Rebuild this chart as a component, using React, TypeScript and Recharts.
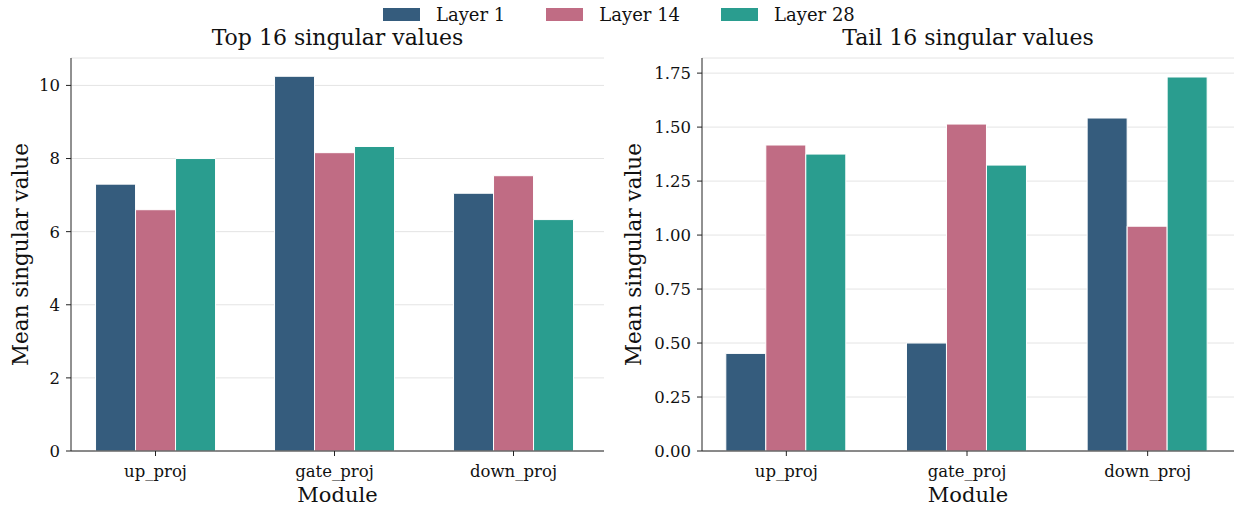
import React from "react";
import { Bar, BarChart, CartesianGrid, XAxis, YAxis } from "recharts";

const FONT = '"DejaVu Serif", "Liberation Serif", serif';
const INK = "#111111";

const modules = ["up_proj", "gate_proj", "down_proj"];
const layerNames = ["Layer 1", "Layer 14", "Layer 28"];
const layerColors = ["#355c7d", "#c06c84", "#2a9d8f"];

// Top 16 singular values, per module
const topLayer1 = [7.3, 10.25, 7.05];
const topLayer14 = [6.6, 8.16, 7.53];
const topLayer28 = [8.0, 8.33, 6.33];

// Tail 16 singular values, per module
const tailLayer1 = [0.452, 0.5, 1.542];
const tailLayer14 = [1.417, 1.514, 1.041];
const tailLayer28 = [1.375, 1.324, 1.732];

const topTicks = [0, 2, 4, 6, 8, 10];
const tailTicks = [0, 0.25, 0.5, 0.75, 1.0, 1.25, 1.5, 1.75];

const toRows = (a: number[], b: number[], c: number[]) =>
  modules.map((m, i) => ({ module: m, l1: a[i], l14: b[i], l28: c[i] }));

const topData = toRows(topLayer1, topLayer14, topLayer28);
const tailData = toRows(tailLayer1, tailLayer14, tailLayer28);

const yLabel = (x: number) => (props: any) => {
  const vb = props.viewBox;
  const cy = vb.y + vb.height / 2;
  return (
    <text
      x={x}
      y={cy}
      transform={`rotate(-90 ${x} ${cy})`}
      textAnchor="middle"
      dominantBaseline="central"
      fontFamily={FONT}
      fontSize={21.5}
      fill={INK}
    >
      Mean singular value
    </text>
  );
};

interface PanelProps {
  title: string;
  data: { module: string; l1: number; l14: number; l28: number }[];
  domain: [number, number];
  ticks: number[];
  fmt: (v: number) => string;
  left: number;
  width: number;
  yWidth: number;
  labelX: number;
  pad: { left: number; right: number };
}

const Panel: React.FC<PanelProps> = ({
  title,
  data,
  domain,
  ticks,
  fmt,
  left,
  width,
  yWidth,
  labelX,
  pad,
}) => {
  const plotCenter = yWidth + (width - yWidth) / 2;
  return (
    <div style={{ position: "absolute", left, top: 0, width, height: 506 }}>
      <div
        style={{
          position: "absolute",
          top: 25,
          left: plotCenter - 200,
          width: 400,
          textAlign: "center",
          fontFamily: FONT,
          fontSize: 22,
          lineHeight: "25px",
          color: INK,
        }}
      >
        {title}
      </div>
      <BarChart
        width={width}
        height={506}
        data={data}
        margin={{ top: 58, right: 0, bottom: 0, left: 0 }}
        barCategoryGap="16.5%"
        barGap={0}
      >
        <CartesianGrid vertical={false} stroke="#e4e4e4" />
        <XAxis
          dataKey="module"
          height={55}
          padding={pad}
          tickSize={5}
          tickMargin={9}
          axisLine={{ stroke: "#222" }}
          tickLine={{ stroke: "#222" }}
          tick={{ fontFamily: FONT, fontSize: 16.5, fill: INK }}
          label={{
            value: "Module",
            position: "insideBottom",
            offset: 4,
            fontFamily: FONT,
            fontSize: 21,
            fill: INK,
          }}
        />
        <YAxis
          width={yWidth}
          domain={domain}
          ticks={ticks}
          tickFormatter={fmt}
          interval={0}
          tickSize={5}
          tickMargin={6}
          axisLine={{ stroke: "#222" }}
          tickLine={{ stroke: "#222" }}
          tick={{ fontFamily: FONT, fontSize: 16.5, fill: INK }}
          label={yLabel(labelX)}
        />
        {["l1", "l14", "l28"].map((k, i) => (
          <Bar
            key={k}
            dataKey={k}
            name={layerNames[i]}
            fill={layerColors[i]}
            stroke="#ffffff"
            strokeWidth={1}
            isAnimationActive={false}
          />
        ))}
      </BarChart>
    </div>
  );
};

const LegendRow: React.FC = () => (
  <div
    style={{
      position: "absolute",
      top: 4,
      left: 383,
      display: "flex",
      gap: 41,
      fontFamily: FONT,
      fontSize: 18,
      lineHeight: "21px",
      color: INK,
    }}
  >
    {layerNames.map((n, i) => (
      <div key={n} style={{ display: "flex", alignItems: "center" }}>
        <span
          style={{
            display: "inline-block",
            width: 37,
            height: 13,
            marginRight: 16,
            background: layerColors[i],
          }}
        />
        <span>{n}</span>
      </div>
    ))}
  </div>
);

export default function App() {
  return (
    <div
      style={{
        position: "absolute",
        left: 0,
        top: 0,
        width: 1235,
        height: 506,
        background: "#fff",
        overflow: "hidden",
      }}
    >
      <LegendRow />
      <Panel
        title="Top 16 singular values"
        data={topData}
        domain={[0, 10.75]}
        ticks={topTicks}
        fmt={(v) => String(v)}
        left={0}
        width={604}
        yWidth={71}
        labelX={20}
        pad={{ left: -5, right: 1 }}
      />
      <Panel
        title="Tail 16 singular values"
        data={tailData}
        domain={[0, 1.82]}
        ticks={tailTicks}
        fmt={(v) => v.toFixed(2)}
        left={610}
        width={624}
        yWidth={92}
        labelX={23}
        pad={{ left: -6, right: -4 }}
      />
    </div>
  );
}
